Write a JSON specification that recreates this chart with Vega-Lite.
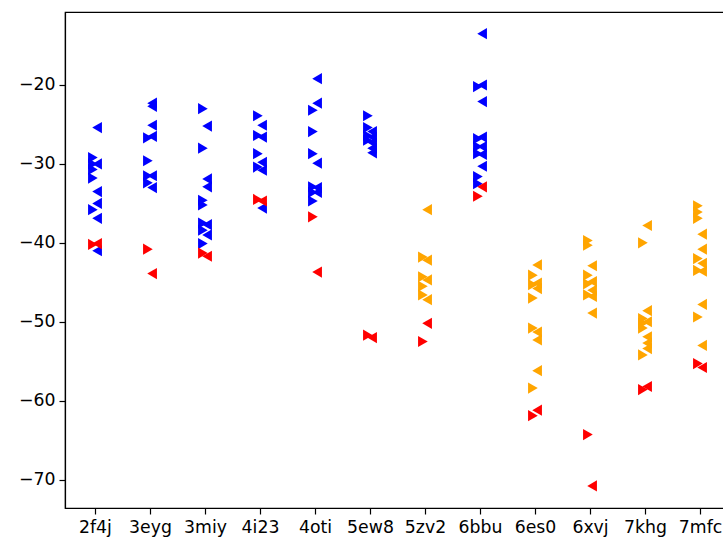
{
  "$schema": "https://vega.github.io/schema/vega-lite/v6.json",
  "autosize": {"type": "none"},
  "padding": {"left": 65, "top": 12, "right": 0, "bottom": 32},
  "width": 665,
  "height": 496,
  "background": "white",
  "config": {
    "view": {"stroke": "black", "strokeWidth": 1.2},
    "font": "DejaVu Sans",
    "axis": {
      "grid": false,
      "domainColor": "black",
      "domainWidth": 1.2,
      "tickColor": "black",
      "tickWidth": 1.2,
      "tickSize": 6,
      "labelFont": "DejaVu Sans",
      "labelFontSize": 17.3,
      "labelColor": "black",
      "title": null
    }
  },
  "data": {
    "values": [
      {"pdb": "2f4j", "marker": "right", "group": "blue", "value": -29.2},
      {"pdb": "2f4j", "marker": "right", "group": "blue", "value": -30.0},
      {"pdb": "2f4j", "marker": "right", "group": "blue", "value": -30.7},
      {"pdb": "2f4j", "marker": "right", "group": "blue", "value": -31.8},
      {"pdb": "2f4j", "marker": "right", "group": "blue", "value": -35.8},
      {"pdb": "2f4j", "marker": "left", "group": "blue", "value": -25.4},
      {"pdb": "2f4j", "marker": "left", "group": "blue", "value": -30.0},
      {"pdb": "2f4j", "marker": "left", "group": "blue", "value": -33.5},
      {"pdb": "2f4j", "marker": "left", "group": "blue", "value": -35.0},
      {"pdb": "2f4j", "marker": "left", "group": "blue", "value": -36.9},
      {"pdb": "2f4j", "marker": "left", "group": "blue", "value": -41.0},
      {"pdb": "2f4j", "marker": "right", "group": "red", "value": -40.2},
      {"pdb": "2f4j", "marker": "left", "group": "red", "value": -40.1},

      {"pdb": "3eyg", "marker": "right", "group": "blue", "value": -26.7},
      {"pdb": "3eyg", "marker": "right", "group": "blue", "value": -29.6},
      {"pdb": "3eyg", "marker": "right", "group": "blue", "value": -31.5},
      {"pdb": "3eyg", "marker": "right", "group": "blue", "value": -32.4},
      {"pdb": "3eyg", "marker": "left", "group": "blue", "value": -22.3},
      {"pdb": "3eyg", "marker": "left", "group": "blue", "value": -22.7},
      {"pdb": "3eyg", "marker": "left", "group": "blue", "value": -25.1},
      {"pdb": "3eyg", "marker": "left", "group": "blue", "value": -26.5},
      {"pdb": "3eyg", "marker": "left", "group": "blue", "value": -31.5},
      {"pdb": "3eyg", "marker": "left", "group": "blue", "value": -33.0},
      {"pdb": "3eyg", "marker": "right", "group": "red", "value": -40.8},
      {"pdb": "3eyg", "marker": "left", "group": "red", "value": -43.9},

      {"pdb": "3miy", "marker": "right", "group": "blue", "value": -23.0},
      {"pdb": "3miy", "marker": "right", "group": "blue", "value": -28.0},
      {"pdb": "3miy", "marker": "right", "group": "blue", "value": -34.6},
      {"pdb": "3miy", "marker": "right", "group": "blue", "value": -35.2},
      {"pdb": "3miy", "marker": "right", "group": "blue", "value": -37.5},
      {"pdb": "3miy", "marker": "right", "group": "blue", "value": -38.4},
      {"pdb": "3miy", "marker": "right", "group": "blue", "value": -40.1},
      {"pdb": "3miy", "marker": "left", "group": "blue", "value": -25.2},
      {"pdb": "3miy", "marker": "left", "group": "blue", "value": -31.9},
      {"pdb": "3miy", "marker": "left", "group": "blue", "value": -32.9},
      {"pdb": "3miy", "marker": "left", "group": "blue", "value": -37.7},
      {"pdb": "3miy", "marker": "left", "group": "blue", "value": -39.0},
      {"pdb": "3miy", "marker": "right", "group": "red", "value": -41.3},
      {"pdb": "3miy", "marker": "left", "group": "red", "value": -41.7},

      {"pdb": "4i23", "marker": "right", "group": "blue", "value": -23.9},
      {"pdb": "4i23", "marker": "right", "group": "blue", "value": -26.4},
      {"pdb": "4i23", "marker": "right", "group": "blue", "value": -28.7},
      {"pdb": "4i23", "marker": "right", "group": "blue", "value": -30.4},
      {"pdb": "4i23", "marker": "left", "group": "blue", "value": -25.1},
      {"pdb": "4i23", "marker": "left", "group": "blue", "value": -26.6},
      {"pdb": "4i23", "marker": "left", "group": "blue", "value": -29.8},
      {"pdb": "4i23", "marker": "left", "group": "blue", "value": -30.8},
      {"pdb": "4i23", "marker": "left", "group": "blue", "value": -35.6},
      {"pdb": "4i23", "marker": "right", "group": "red", "value": -34.5},
      {"pdb": "4i23", "marker": "left", "group": "red", "value": -34.7},

      {"pdb": "4oti", "marker": "right", "group": "blue", "value": -23.2},
      {"pdb": "4oti", "marker": "right", "group": "blue", "value": -25.9},
      {"pdb": "4oti", "marker": "right", "group": "blue", "value": -28.7},
      {"pdb": "4oti", "marker": "right", "group": "blue", "value": -32.9},
      {"pdb": "4oti", "marker": "right", "group": "blue", "value": -33.6},
      {"pdb": "4oti", "marker": "right", "group": "blue", "value": -34.7},
      {"pdb": "4oti", "marker": "left", "group": "blue", "value": -19.2},
      {"pdb": "4oti", "marker": "left", "group": "blue", "value": -22.3},
      {"pdb": "4oti", "marker": "left", "group": "blue", "value": -29.9},
      {"pdb": "4oti", "marker": "left", "group": "blue", "value": -33.0},
      {"pdb": "4oti", "marker": "left", "group": "blue", "value": -33.6},
      {"pdb": "4oti", "marker": "right", "group": "red", "value": -36.7},
      {"pdb": "4oti", "marker": "left", "group": "red", "value": -43.7},

      {"pdb": "5ew8", "marker": "right", "group": "blue", "value": -23.9},
      {"pdb": "5ew8", "marker": "right", "group": "blue", "value": -25.4},
      {"pdb": "5ew8", "marker": "right", "group": "blue", "value": -26.4},
      {"pdb": "5ew8", "marker": "right", "group": "blue", "value": -27.0},
      {"pdb": "5ew8", "marker": "left", "group": "blue", "value": -25.9},
      {"pdb": "5ew8", "marker": "left", "group": "blue", "value": -26.6},
      {"pdb": "5ew8", "marker": "left", "group": "blue", "value": -27.3},
      {"pdb": "5ew8", "marker": "left", "group": "blue", "value": -28.0},
      {"pdb": "5ew8", "marker": "left", "group": "blue", "value": -28.6},
      {"pdb": "5ew8", "marker": "right", "group": "red", "value": -51.7},
      {"pdb": "5ew8", "marker": "left", "group": "red", "value": -52.0},

      {"pdb": "5zv2", "marker": "right", "group": "orange", "value": -41.8},
      {"pdb": "5zv2", "marker": "right", "group": "orange", "value": -44.3},
      {"pdb": "5zv2", "marker": "right", "group": "orange", "value": -45.5},
      {"pdb": "5zv2", "marker": "right", "group": "orange", "value": -46.6},
      {"pdb": "5zv2", "marker": "left", "group": "orange", "value": -35.8},
      {"pdb": "5zv2", "marker": "left", "group": "orange", "value": -42.2},
      {"pdb": "5zv2", "marker": "left", "group": "orange", "value": -44.7},
      {"pdb": "5zv2", "marker": "left", "group": "orange", "value": -47.2},
      {"pdb": "5zv2", "marker": "right", "group": "red", "value": -52.5},
      {"pdb": "5zv2", "marker": "left", "group": "red", "value": -50.2},

      {"pdb": "6bbu", "marker": "right", "group": "blue", "value": -20.2},
      {"pdb": "6bbu", "marker": "right", "group": "blue", "value": -26.8},
      {"pdb": "6bbu", "marker": "right", "group": "blue", "value": -27.8},
      {"pdb": "6bbu", "marker": "right", "group": "blue", "value": -28.7},
      {"pdb": "6bbu", "marker": "right", "group": "blue", "value": -31.6},
      {"pdb": "6bbu", "marker": "right", "group": "blue", "value": -32.5},
      {"pdb": "6bbu", "marker": "left", "group": "blue", "value": -13.5},
      {"pdb": "6bbu", "marker": "left", "group": "blue", "value": -20.0},
      {"pdb": "6bbu", "marker": "left", "group": "blue", "value": -22.1},
      {"pdb": "6bbu", "marker": "left", "group": "blue", "value": -26.6},
      {"pdb": "6bbu", "marker": "left", "group": "blue", "value": -27.8},
      {"pdb": "6bbu", "marker": "left", "group": "blue", "value": -28.8},
      {"pdb": "6bbu", "marker": "left", "group": "blue", "value": -30.3},
      {"pdb": "6bbu", "marker": "right", "group": "red", "value": -34.1},
      {"pdb": "6bbu", "marker": "left", "group": "red", "value": -32.9},

      {"pdb": "6es0", "marker": "right", "group": "orange", "value": -44.1},
      {"pdb": "6es0", "marker": "right", "group": "orange", "value": -45.3},
      {"pdb": "6es0", "marker": "right", "group": "orange", "value": -47.0},
      {"pdb": "6es0", "marker": "right", "group": "orange", "value": -50.8},
      {"pdb": "6es0", "marker": "right", "group": "orange", "value": -58.4},
      {"pdb": "6es0", "marker": "left", "group": "orange", "value": -42.8},
      {"pdb": "6es0", "marker": "left", "group": "orange", "value": -45.1},
      {"pdb": "6es0", "marker": "left", "group": "orange", "value": -45.8},
      {"pdb": "6es0", "marker": "left", "group": "orange", "value": -51.3},
      {"pdb": "6es0", "marker": "left", "group": "orange", "value": -52.3},
      {"pdb": "6es0", "marker": "left", "group": "orange", "value": -56.2},
      {"pdb": "6es0", "marker": "right", "group": "red", "value": -61.9},
      {"pdb": "6es0", "marker": "left", "group": "red", "value": -61.2},

      {"pdb": "6xvj", "marker": "right", "group": "orange", "value": -39.7},
      {"pdb": "6xvj", "marker": "right", "group": "orange", "value": -40.3},
      {"pdb": "6xvj", "marker": "right", "group": "orange", "value": -44.1},
      {"pdb": "6xvj", "marker": "right", "group": "orange", "value": -45.2},
      {"pdb": "6xvj", "marker": "right", "group": "orange", "value": -46.6},
      {"pdb": "6xvj", "marker": "left", "group": "orange", "value": -42.9},
      {"pdb": "6xvj", "marker": "left", "group": "orange", "value": -44.9},
      {"pdb": "6xvj", "marker": "left", "group": "orange", "value": -46.0},
      {"pdb": "6xvj", "marker": "left", "group": "orange", "value": -46.8},
      {"pdb": "6xvj", "marker": "left", "group": "orange", "value": -48.9},
      {"pdb": "6xvj", "marker": "right", "group": "red", "value": -64.3},
      {"pdb": "6xvj", "marker": "left", "group": "red", "value": -70.8},

      {"pdb": "7khg", "marker": "right", "group": "orange", "value": -40.0},
      {"pdb": "7khg", "marker": "right", "group": "orange", "value": -49.6},
      {"pdb": "7khg", "marker": "right", "group": "orange", "value": -50.2},
      {"pdb": "7khg", "marker": "right", "group": "orange", "value": -50.8},
      {"pdb": "7khg", "marker": "right", "group": "orange", "value": -54.2},
      {"pdb": "7khg", "marker": "left", "group": "orange", "value": -37.8},
      {"pdb": "7khg", "marker": "left", "group": "orange", "value": -48.6},
      {"pdb": "7khg", "marker": "left", "group": "orange", "value": -50.0},
      {"pdb": "7khg", "marker": "left", "group": "orange", "value": -51.9},
      {"pdb": "7khg", "marker": "left", "group": "orange", "value": -52.7},
      {"pdb": "7khg", "marker": "left", "group": "orange", "value": -53.4},
      {"pdb": "7khg", "marker": "right", "group": "red", "value": -58.6},
      {"pdb": "7khg", "marker": "left", "group": "red", "value": -58.2},

      {"pdb": "7mfc", "marker": "right", "group": "orange", "value": -35.3},
      {"pdb": "7mfc", "marker": "right", "group": "orange", "value": -36.1},
      {"pdb": "7mfc", "marker": "right", "group": "orange", "value": -36.9},
      {"pdb": "7mfc", "marker": "right", "group": "orange", "value": -42.0},
      {"pdb": "7mfc", "marker": "right", "group": "orange", "value": -43.5},
      {"pdb": "7mfc", "marker": "right", "group": "orange", "value": -49.4},
      {"pdb": "7mfc", "marker": "left", "group": "orange", "value": -38.9},
      {"pdb": "7mfc", "marker": "left", "group": "orange", "value": -40.8},
      {"pdb": "7mfc", "marker": "left", "group": "orange", "value": -42.6},
      {"pdb": "7mfc", "marker": "left", "group": "orange", "value": -43.6},
      {"pdb": "7mfc", "marker": "left", "group": "orange", "value": -47.8},
      {"pdb": "7mfc", "marker": "left", "group": "orange", "value": -53.0},
      {"pdb": "7mfc", "marker": "right", "group": "red", "value": -55.3},
      {"pdb": "7mfc", "marker": "left", "group": "red", "value": -55.8}
    ]
  },
  "mark": {"type": "point", "filled": true, "opacity": 1, "size": 125, "strokeWidth": 1},
  "encoding": {
    "x": {
      "field": "pdb",
      "type": "nominal",
      "sort": null,
      "scale": {"type": "point", "padding": 0.545},
      "axis": {"labelAngle": 0, "labelPadding": 4}
    },
    "xOffset": {
      "field": "marker",
      "type": "nominal",
      "scale": {"domain": ["right", "left"], "range": [-4.2, 4.2]}
    },
    "y": {
      "field": "value",
      "type": "quantitative",
      "scale": {"domain": [-73.6, -10.75], "nice": false, "zero": false},
      "axis": {"values": [-70, -60, -50, -40, -30, -20], "labelPadding": 4}
    },
    "shape": {
      "field": "marker",
      "type": "nominal",
      "scale": {"domain": ["right", "left"], "range": ["triangle-right", "triangle-left"]},
      "legend": null
    },
    "color": {
      "field": "group",
      "type": "nominal",
      "scale": {"domain": ["blue", "red", "orange"], "range": ["#0000ff", "#ff0000", "#ffa500"]},
      "legend": null
    }
  }
}
